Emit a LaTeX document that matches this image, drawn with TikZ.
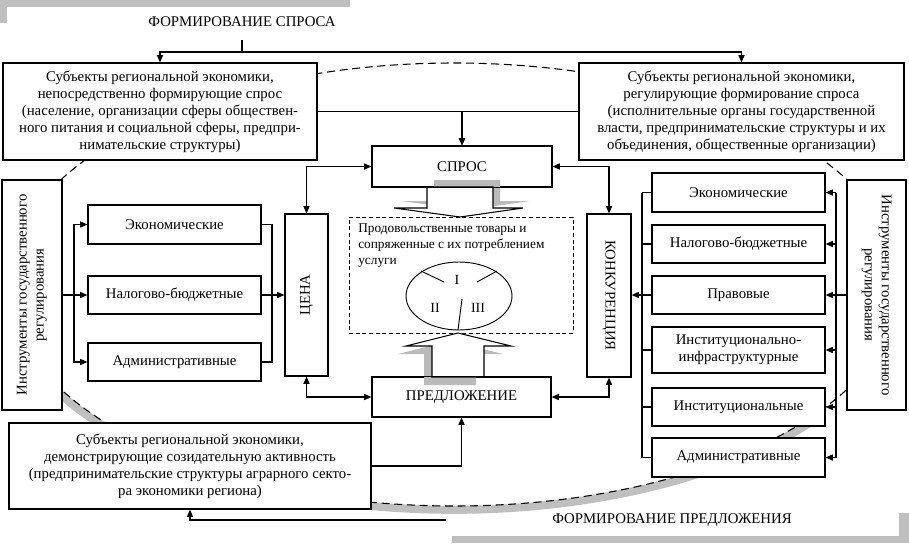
\documentclass[tikz,border=0pt]{standalone}
\usepackage{fontspec}
\setmainfont{Liberation Serif}
\usetikzlibrary{arrows.meta,fit,calc}
\begin{document}
\begin{tikzpicture}[x=0.75pt,y=-0.75pt,
  box/.style={draw, line width=0.8pt, fill=white, inner sep=0pt},
  lbl/.style={font=\fontsize{11.1}{12.75}\selectfont, align=center, inner sep=0pt},
  conn/.style={line width=1.1pt},
  arr/.style={conn, -{Triangle[length=5.5pt,width=4.5pt]}},
  arrs/.style={conn, {Triangle[length=5.5pt,width=4.5pt]}-{Triangle[length=5.5pt,width=4.5pt]}},
  shadowc/.style={fill=black!27, draw=none},
  bandc/.style={fill=black!25, draw=none},
  hollow/.style={fill=white, draw, line width=0.8pt, line join=miter}]
\useasboundingbox (0,0) rectangle (909,543);

% gray decorative bands
\fill[bandc] (0,0) rectangle (350,7);
\fill[bandc] (0,0) rectangle (7,23);
\fill[bandc] (452,536) rectangle (909,543);
\fill[bandc] (899,513) rectangle (909,543);

% big dashed ellipse with gray shadow band
\draw[black!25, line width=6pt] ([shift={(207:338pt and 169pt)}]454,284.5) arc[start angle=207, end angle=322, x radius=338pt, y radius=169pt];
\draw[line width=0.8pt, dash pattern=on 6pt off 3.5pt] (454,284.5) ellipse [x radius=334.5pt, y radius=166.125pt];

% titles
\node[lbl] (tD) at (242,22) {ФОРМИРОВАНИЕ СПРОСА};
\node[lbl] (tS) at (672,520) {ФОРМИРОВАНИЕ ПРЕДЛОЖЕНИЯ};

% top boxes
\node[box, fit={(3,63)(317,160)}] (subL) {};
\node[lbl] at (subL.center) {Субъекты региональной экономики,\\ непосредственно формирующие спрос\\ (население, организации сферы обществен-\\ного питания и социальной сферы, предпри-\\нимательские структуры)};
\node[box, fit={(579,63)(904,160)}] (subR) {};
\node[lbl] at (subR.center) {Субъекты региональной экономики,\\ регулирующие формирование спроса\\ (исполнительные органы государственной\\ власти, предпринимательские структуры и их\\ объединения, общественные организации)};

% bottom box
\node[box, fit={(9,423)(371,509)}] (subB) {};
\node[lbl] at (subB.center) {Субъекты региональной экономики,\\ демонстрирующие созидательную активность\\ (предпринимательские структуры аграрного секто-\\ра экономики региона)};

% central boxes
\node[box, fit={(372,146)(552,187)}] (spros) {};
\node[lbl] at (spros.center) {СПРОС};
\node[box, fit={(372,377)(551,417)}] (pred) {};
\node[lbl] at (pred.center) {ПРЕДЛОЖЕНИЕ};
\node[box, fit={(285,214)(328,376)}] (cena) {};
\node[lbl, rotate=90] at (cena.center) {ЦЕНА};
\node[box, fit={(587,214)(631,377)}] (konk) {};
\node[lbl, rotate=-90] at (konk.center) {КОНКУРЕНЦИЯ};

% left instruments
\node[box, fit={(2,180)(62,410)}] (instL) {};
\node[lbl, rotate=90] at (instL.center) {Инструменты государственного\\ регулирования};
\node[box, fit={(88,205)(261,244)}] (lEk) {};
\node[lbl] at (lEk.center) {Экономические};
\node[box, fit={(88,276)(261,314)}] (lNal) {};
\node[lbl] at (lNal.center) {Налогово-бюджетные};
\node[box, fit={(88,343)(261,381)}] (lAdm) {};
\node[lbl] at (lAdm.center) {Административные};

% right instruments
\node[box, fit={(847,180)(906,410)}] (instR) {};
\node[lbl, rotate=-90] at (instR.center) {Инструменты государственного\\ регулирования};
\node[box, fit={(652,173)(825,212)}] (rEk) {};
\node[lbl] at (rEk.center) {Экономические};
\node[box, fit={(652,225)(825,263)}] (rNal) {};
\node[lbl] at (rNal.center) {Налогово-бюджетные};
\node[box, fit={(652,276)(825,314)}] (rPrav) {};
\node[lbl] at (rPrav.center) {Правовые};
\node[box, fit={(652,327)(825,373)}] (rInA) {};
\node[lbl] at (rInA.center) {Институционально-\\инфраструктурные};
\node[box, fit={(652,388)(825,426)}] (rInB) {};
\node[lbl] at (rInB.center) {Институциональные};
\node[box, fit={(652,438)(825,477)}] (rAdm) {};
\node[lbl] at (rAdm.center) {Административные};

% inner dashed region
\node[draw, line width=0.6pt, dash pattern=on 3pt off 2pt, fit={(349,217)(573,333)}, inner sep=0pt] (food) {};
\node[anchor=north west, inner sep=0pt, align=left, font=\fontsize{10}{12}\selectfont] (foodtxt) at (358,223) {Продовольственные товары и\\ сопряженные с их потреблением\\ услуги};
\draw[line width=0.7pt] (459,296) ellipse [x radius=39.75pt, y radius=25.5pt];
\draw[line width=0.7pt] (421,271) -- (444,282);
\draw[line width=0.7pt] (477,282) -- (497,271);
\draw[line width=0.7pt] (462,299) -- (458,330);
\node[font=\fontsize{10.5}{12}\selectfont, inner sep=0pt] (sI) at (457,280) {I};
\node[font=\fontsize{10.5}{12}\selectfont, inner sep=0pt] (sII) at (435,308) {II};
\node[font=\fontsize{10.5}{12}\selectfont, inner sep=0pt] (sIII) at (478,308) {III};

% hollow arrows with shadows
\begin{scope}[shift={(7,-7)}]
\fill[shadowc] (427,187) -- (427,208) -- (394,208) -- (460,217) -- (523,208) -- (493,208) -- (493,187) -- cycle;
\end{scope}
\filldraw[hollow] (427,187) -- (427,208) -- (394,208) -- (460,217) -- (523,208) -- (493,208) -- (493,187) -- cycle;
\draw[line width=0.8pt] (spros.south west) -- (spros.south east);

\begin{scope}[shift={(-8,8)}]
\fill[shadowc] (432,377) -- (432,346) -- (406,346) -- (458,333) -- (511,346) -- (484,346) -- (484,377) -- cycle;
\end{scope}
\filldraw[hollow] (432,377) -- (432,346) -- (406,346) -- (458,333) -- (511,346) -- (484,346) -- (484,377) -- cycle;
\draw[line width=0.8pt] (pred.north west) -- (pred.north east);

% top connectors
\coordinate (ts) at (242,40);
\coordinate (tj) at (242,52);
\draw[conn] (ts) -- (tj);
\draw[arr] (tj) -| (subL.north);
\draw[arr] (tj) -| (subR.north);
\draw[arr] (subL.east) -| (spros.north);
\draw[arr] (subR.west) -| (spros.north);

% central connectors
\draw[arrs] (spros.west) -| (cena.north);
\draw[arrs] (spros.east) -| (konk.north);
\draw[arrs] (pred.west) -| (cena.south);
\draw[arrs] (pred.east) -| (konk.south);
\draw[arr] (subB.east) -| (pred.south);
\coordinate (fp) at (446,520);
\draw[arr] (fp) -| (subB.south);

% left connectors
\coordinate (lb) at (74,295);
\coordinate (rb) at (272,295);
\draw[arr] (instL.east) -- (lNal.west);
\draw[arr] (lb) |- (lEk.west);
\draw[arr] (lb) |- (lAdm.west);
\draw[conn] (lEk.east) -| (rb) |- (lAdm.east);
\draw[arr] (lNal.east) -- (lNal.east -| cena.west);

% right connectors
\coordinate (rvx) at (836,0);
\coordinate (lvx) at (642,0);
\draw[conn] (rEk.east -| rvx) -- (rAdm.east -| rvx);
\draw[conn] (instR.west) -- (instR.west -| rvx);
\foreach \n in {rEk,rNal,rPrav,rInA,rInB,rAdm}{
  \draw[arr] (\n.east -| rvx) -- (\n.east);
  \draw[conn] (\n.west -| lvx) -- (\n.west);
}
\draw[conn] (rEk.west -| lvx) -- (rAdm.west -| lvx);
\draw[arr] (rPrav.west -| lvx) -- (rPrav.west -| konk.east);
\end{tikzpicture}
\end{document}
